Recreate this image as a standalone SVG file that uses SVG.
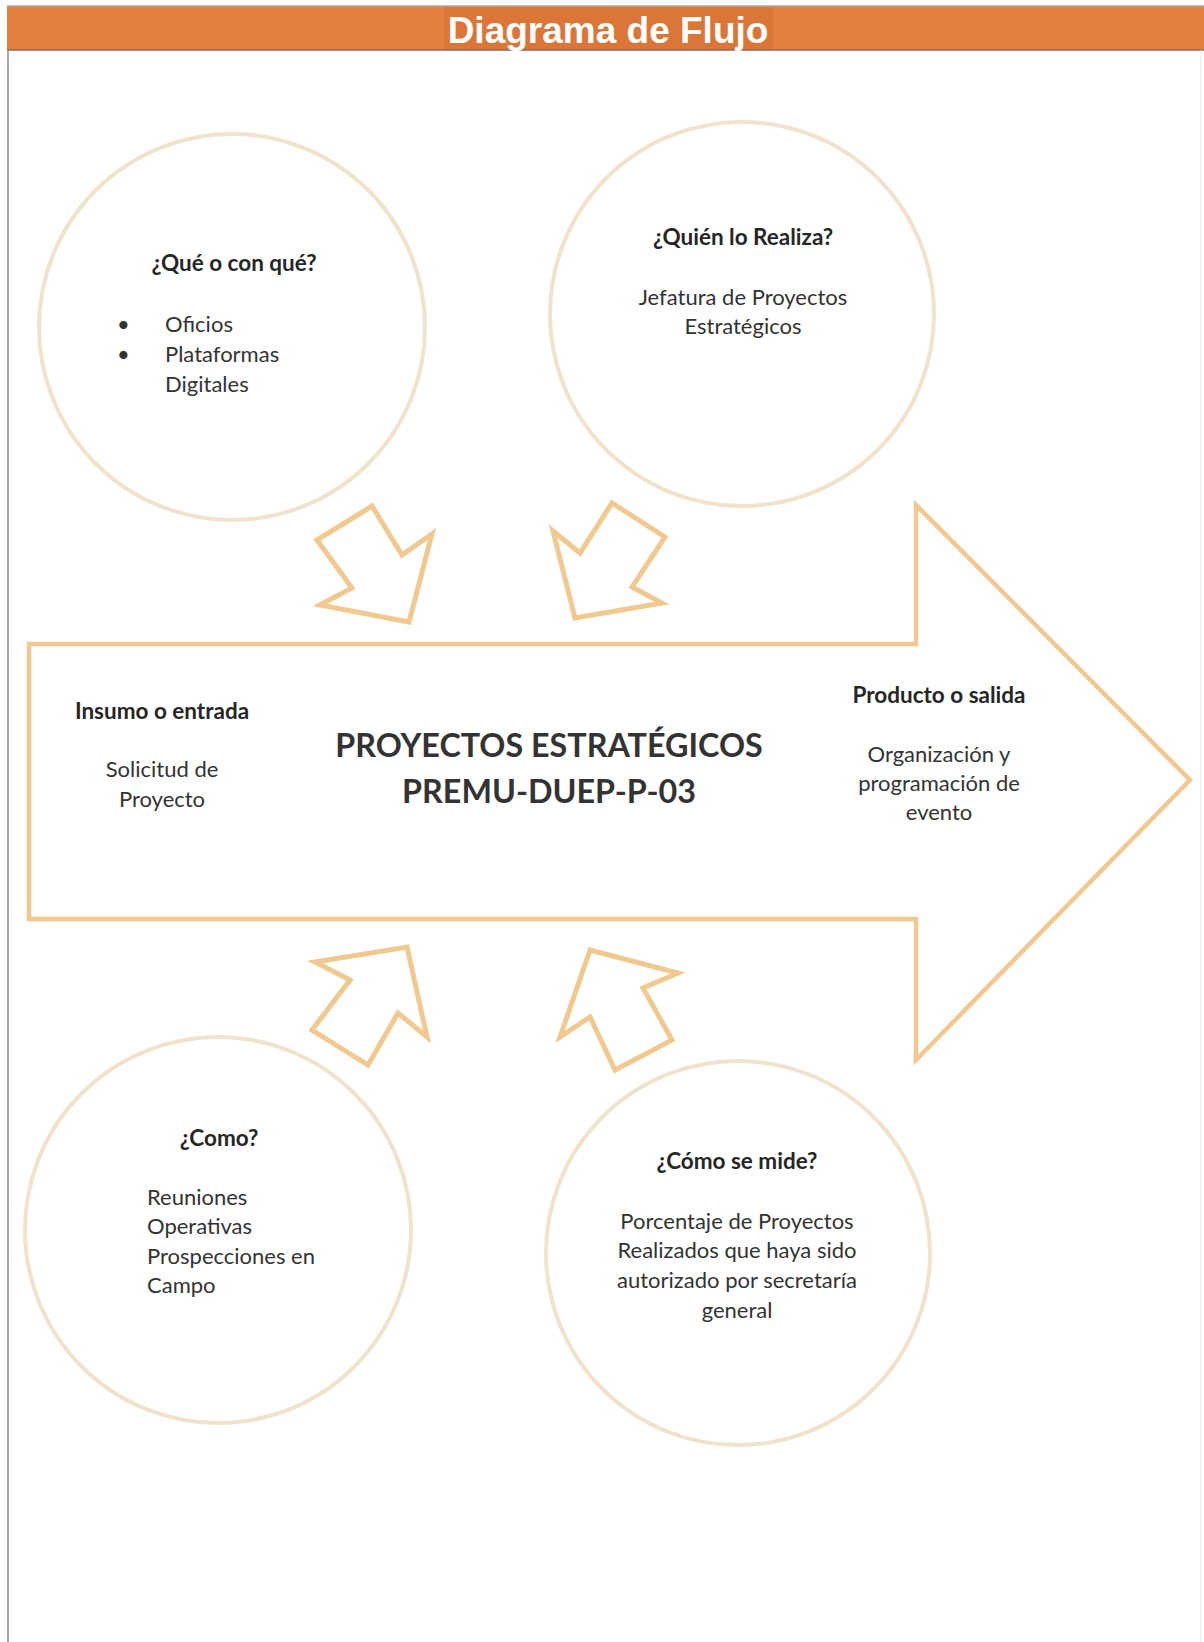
<svg xmlns="http://www.w3.org/2000/svg" width="1204" height="1642" viewBox="0 0 1204 1642">
<style>
.circ{fill:none;stroke:#f1e2cc;stroke-width:4}
.arr{fill:#fff;stroke:#f1c98f;stroke-width:5;stroke-linejoin:miter}
.big{fill:#fff;stroke:#f3c890;stroke-width:4.5;stroke-linejoin:miter}
.h{font-family:Lato,"Open Sans",sans-serif;font-weight:bold;font-size:22.5px;fill:#262626}
.t{font-family:Lato,"Open Sans",sans-serif;font-size:22px;fill:#333}
.c{text-anchor:middle}
.main{font-family:Lato,"Open Sans",sans-serif;font-weight:bold;font-size:32.3px;fill:#333;text-anchor:middle}
</style>
<rect x="0" y="0" width="1204" height="1642" fill="#fff"/>
<g id="header">
<rect x="7" y="6" width="1197" height="44" fill="#e4803f"/>
<rect x="444" y="6" width="329" height="44" fill="#dc7638"/>
<line x1="7" y1="6" x2="1204" y2="6" stroke="#b8a598" stroke-width="1.5"/>
<line x1="7" y1="50" x2="1204" y2="50" stroke="#8a6a58" stroke-width="1.5"/>
<text x="608" y="43" text-anchor="middle" font-family="'Liberation Sans',Arial,sans-serif" font-weight="bold" font-size="37" fill="#fff">Diagrama de Flujo</text>
</g>
<line x1="8" y1="50" x2="8" y2="1642" stroke="#8c8c8c" stroke-width="1.5"/>
<line x1="1201" y1="50" x2="1201" y2="1642" stroke="#e8e8e8" stroke-width="1"/>
<g id="connectors">
<path class="big" d="M29,644 L916,644 L916,505 L1190,780 L916,1060 L916,919 L29,919 Z"/>
<polygon class="arr" points="317,540 372,506 402,555 432,534 409,622 320,605 352,588"/>
<polygon class="arr" points="553,531 580,553 612,503 665,537 632,587 662,603 575,618"/>
<polygon class="arr" points="315,962 350,980 312,1030 368,1065 398,1013 427,1037 407,947"/>
<polygon class="arr" points="590,950 678,973 643,988 672,1040 615,1070 590,1017 560,1037"/>
</g>
<g id="node-que">
<circle class="circ" cx="232" cy="327" r="193"/>
<text class="h c" x="234" y="271">¿Qué o con qué?</text>
<text class="t" x="117" y="332">•</text>
<text class="t" x="165" y="332">Oficios</text>
<text class="t" x="117" y="362">•</text>
<text class="t" x="165" y="362">Plataformas</text>
<text class="t" x="165" y="392">Digitales</text>
</g>
<g id="node-quien">
<circle class="circ" cx="742" cy="314" r="192"/>
<text class="h c" x="743" y="245">¿Quién lo Realiza?</text>
<text class="t c" x="743" y="305">Jefatura de Proyectos</text>
<text class="t c" x="743" y="334">Estratégicos</text>
</g>
<g id="node-proceso">
<text class="h c" x="162" y="719">Insumo o entrada</text>
<text class="t c" x="162" y="777">Solicitud de</text>
<text class="t c" x="162" y="807">Proyecto</text>
<text class="main" x="549" y="757">PROYECTOS ESTRATÉGICOS</text>
<text class="main" x="549" y="803">PREMU-DUEP-P-03</text>
<text class="h c" x="939" y="703">Producto o salida</text>
<text class="t c" x="939" y="762">Organización y</text>
<text class="t c" x="939" y="791">programación de</text>
<text class="t c" x="939" y="820">evento</text>
</g>
<g id="node-como">
<circle class="circ" cx="218" cy="1230" r="193"/>
<text class="h c" x="219" y="1146">¿Como?</text>
<text class="t" x="147" y="1205">Reuniones</text>
<text class="t" x="147" y="1234">Operativas</text>
<text class="t" x="147" y="1264">Prospecciones en</text>
<text class="t" x="147" y="1293">Campo</text>
</g>
<g id="node-mide">
<circle class="circ" cx="738" cy="1253" r="192"/>
<text class="h c" x="737" y="1169">¿Cómo se mide?</text>
<text class="t c" x="737" y="1229">Porcentaje de Proyectos</text>
<text class="t c" x="737" y="1258">Realizados que haya sido</text>
<text class="t c" x="737" y="1288">autorizado por secretaría</text>
<text class="t c" x="737" y="1318">general</text>
</g>
</svg>
